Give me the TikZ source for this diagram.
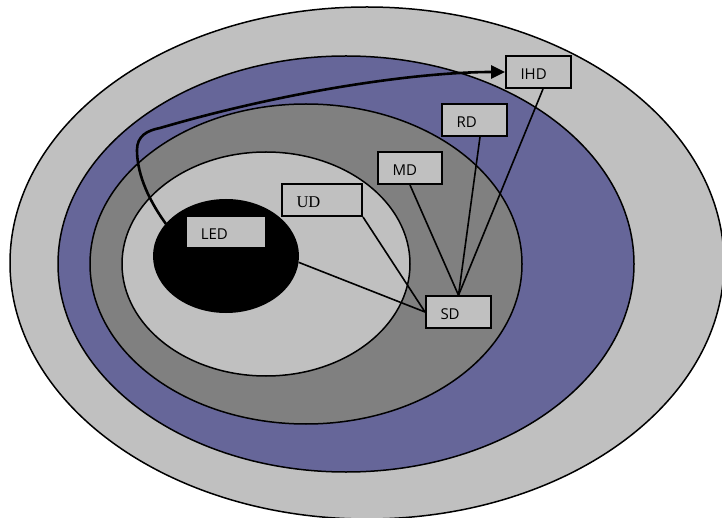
\documentclass[tikz,border=0pt]{standalone}
\usepackage{fontspec}
\usetikzlibrary{shapes.geometric,arrows.meta}
\newfontfamily\sansf{Open Sans}
\newfontfamily\serf{Liberation Serif}
\definecolor{outergray}{HTML}{C0C0C0}
\definecolor{ringblue}{HTML}{666699}
\definecolor{darkgray}{HTML}{808080}
\definecolor{lightgray}{HTML}{C0C0C0}
\definecolor{boxgray}{HTML}{C0C0C0}
\tikzset{
  ring/.style={draw=black, line width=1.5pt},
  dbox/.style={draw=black, line width=2pt, fill=boxgray, rectangle, inner xsep=14.5pt, inner ysep=0pt,
    align=left, text height=14.5pt, text depth=0pt, font=\sansf\fontsize{15}{17}\selectfont},
  conn/.style={draw=black, line width=1.6pt},
  bigarrow/.style={draw=black, line width=2.6pt, -{Triangle[length=14pt,width=13pt]}}
}
\begin{document}
\begin{tikzpicture}[x=1pt,y=-1pt]
\useasboundingbox (0,0) rectangle (722,518);
\clip (0,0) rectangle (722,518);
\fill[white] (0,0) rectangle (722,518);
% rings
\filldraw[ring, fill=outergray] (367,263) ellipse [x radius=357pt, y radius=256pt];
\filldraw[ring, fill=ringblue] (346,264) ellipse [x radius=288pt, y radius=208pt];
\filldraw[ring, fill=darkgray] (306,264) ellipse [x radius=216pt, y radius=160pt];
\filldraw[ring, fill=lightgray] (266,264) ellipse [x radius=144pt, y radius=112pt];
\node[ellipse, fill=black, draw=none, minimum width=146pt, minimum height=114pt, inner sep=0pt] (core) at (226,256) {};
% boxes
\node[dbox, text width=36pt, minimum height=32pt] (IHD) at (538.5,72) {IHD};
\node[dbox, text width=36pt, minimum height=32pt] (RD) at (474.5,120) {RD};
\node[dbox, text width=35pt, minimum height=32pt] (MD) at (410,168) {MD};
\node[dbox, text width=51pt, minimum height=32pt, font=\serf\fontsize{16.5}{18}\selectfont] (UD) at (322,200) {UD};
\node[dbox, draw=none, inner xsep=13.5pt, text width=50.5pt, minimum height=30pt] (LED) at (226,232) {LED};
\node[dbox, text width=36pt, minimum height=31.5pt] (SD) at (458.5,312) {SD};
% connectors
\draw[conn] (MD.south) -- (SD.north);
\draw[conn] ([xshift=5.5pt]RD.south) -- (SD.north);
\draw[conn] ([xshift=4.5pt]IHD.south) -- (SD.north);
\draw[conn] (UD.south east) -- (SD.west);
\draw[conn] (core.-5) -- (SD.west);
% curved arrow
\coordinate (cstart) at (166,224);
\draw[bigarrow] (cstart) .. controls (145,195) and (137,170) .. (137,150)
  .. controls (137,136) and (147,130.5) .. (160,128)
  .. controls (290,90) and (420,72) .. (IHD.west);
\end{tikzpicture}
\end{document}
